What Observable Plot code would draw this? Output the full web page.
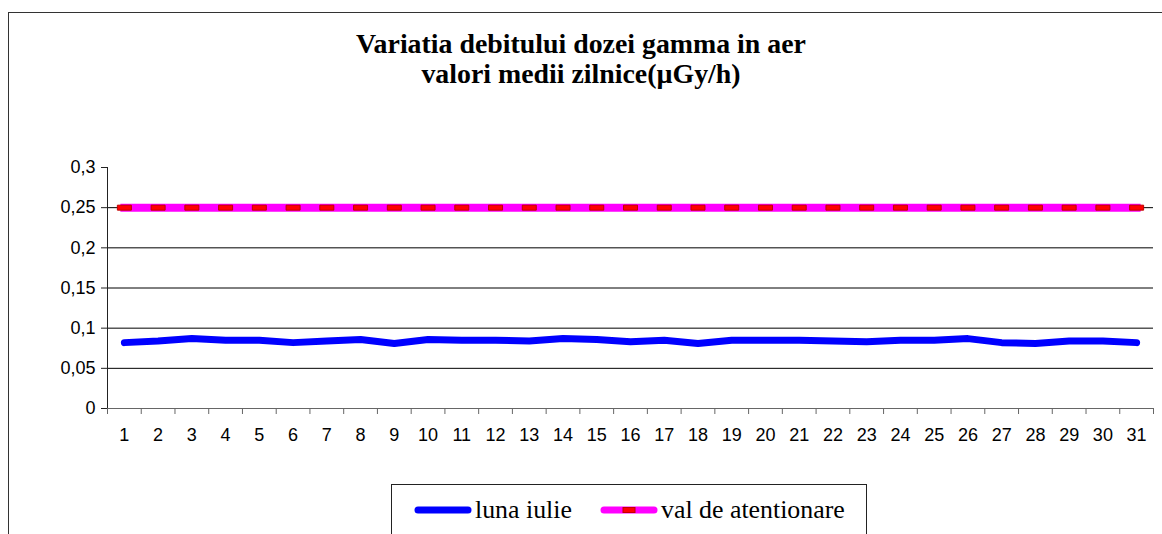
<!DOCTYPE html>
<html>
<head>
<meta charset="utf-8">
<script src="https://cdn.jsdelivr.net/npm/d3@7"></script>
<script src="https://cdn.jsdelivr.net/npm/@observablehq/plot@0.6"></script>
<style>
  html, body { margin: 0; padding: 0; background: #fff; }
  #wrap { position: relative; width: 1162px; height: 534px; overflow: hidden; background: #fff; }
  #frame { position: absolute; left: 8px; top: 12px; width: 1300px; height: 700px; border: 1px solid #333; box-sizing: border-box; }
  #title { position: absolute; left: 0; width: 1162px; top: 29px; text-align: center; font-weight: bold; font-size: 27px; line-height: 30px; color: #000; }
  #title span { white-space: nowrap; }
  #chart { position: absolute; left: 0; top: 0; }
  #legend { position: absolute; left: 391px; top: 484px; width: 476px; height: 80px; border: 1px solid #222; box-sizing: border-box; background: #fff; font-size: 25px; }
  .item { position: absolute; top: 11px; height: 28px; line-height: 28px; display: flex; align-items: center; white-space: nowrap; }
  .item svg { display: block; margin-right: 3px; }
</style>
</head>
<body>
<div id="wrap">
  <div id="frame"></div>
  <div id="title"><span id="t1">Variatia debitului dozei gamma in aer</span><br><span id="t2">valori medii zilnice(µGy/h)</span></div>
  <div id="chart"></div>
  <div id="legend"></div>
</div>
<script>
// ---- data ----
const days = d3.range(1, 32);
const lunaIulie = [0.082, 0.084, 0.087, 0.085, 0.085, 0.082, 0.084, 0.086, 0.081, 0.086,
                   0.085, 0.085, 0.084, 0.087, 0.086, 0.083, 0.085, 0.081, 0.085, 0.085,
                   0.085, 0.084, 0.083, 0.085, 0.085, 0.087, 0.082, 0.081, 0.084, 0.084, 0.082];
const valAtentionare = days.map(() => 0.25);
const yTicks = [0, 0.05, 0.1, 0.15, 0.2, 0.25, 0.3];
const gridValues = [0.05, 0.1, 0.15, 0.2, 0.25];
const seriesNames = ["luna iulie", "val de atentionare"];
const seriesColors = ["#0000FF", "#FF00FF"];

// pick an installed serif font
function hasFont(name) {
  const c = document.createElement("canvas").getContext("2d");
  const s = "abcdefghijklmnopqrstuvwxyzABCDEFGHIJ0123456789";
  c.font = "40px monospace"; const w1 = c.measureText(s).width;
  c.font = `40px '${name}', monospace`; const w2 = c.measureText(s).width;
  c.font = "40px sans-serif"; const w3 = c.measureText(s).width;
  c.font = `40px '${name}', sans-serif`; const w4 = c.measureText(s).width;
  return w1 !== w2 || w3 !== w4;
}
const serifCandidates = ["Liberation Serif", "Times New Roman", "Tinos", "DejaVu Serif", "Noto Serif"];
const found = serifCandidates.find(hasFont);
const serifFont = (found ? `'${found}', ` : "") + "serif";
document.getElementById("title").style.fontFamily = serifFont;
document.getElementById("legend").style.fontFamily = serifFont;

const blue = days.map((d, i) => ({day: d, value: lunaIulie[i]}));
const alert = days.map((d, i) => ({day: d, value: valAtentionare[i]}));
const boundaries = d3.range(0.5, 32, 1);

const dashSymbol = {
  draw(ctx, size) { ctx.rect(-7, -2.5, 14, 5); }
};

const fmt = d => String(+d.toFixed(2)).replace(".", ",");

const plot = Plot.plot({
  width: 1162,
  height: 534,
  marginLeft: 107,
  marginRight: 9,
  marginTop: 167,
  marginBottom: 126,
  style: { fontFamily: "'Liberation Sans', Arial, sans-serif", fontSize: "18px", color: "#000", background: "transparent" },
  x: { type: "linear", domain: [0.5, 31.5] },
  y: { domain: [0, 0.3] },
  marks: [
    Plot.ruleY(gridValues, { stroke: "#000", strokeWidth: 1 }),
    Plot.ruleX([0.5], { stroke: "#222", strokeWidth: 1 }),
    Plot.ruleY([0], { stroke: "#666", strokeWidth: 1 }),
    Plot.axisY({ ticks: yTicks, tickFormat: fmt, tickSize: 6, tickPadding: 6, stroke: "#222", label: null, fontSize: 18 }),
    Plot.axisX({ ticks: boundaries, tickFormat: () => "", tickSize: 6, stroke: "#666", label: null }),
    Plot.axisX({ ticks: days, tickFormat: d => String(d), tickSize: 0, tickPadding: 20, label: null, fontSize: 18 }),
    Plot.line(alert, { x: "day", y: "value", stroke: seriesColors[1], strokeWidth: 8, strokeLinecap: "square" }),
    Plot.dot(alert, { x: "day", y: "value", symbol: dashSymbol, fill: "#FF0000", stroke: "#C00000", strokeWidth: 1, r: 5 }),
    Plot.line(blue, { x: "day", y: "value", stroke: seriesColors[0], strokeWidth: 7, strokeLinecap: "round", strokeLinejoin: "round" })
  ]
});
document.getElementById("chart").appendChild(plot);

// ---- legend ----
const legend = document.getElementById("legend");
const lpos = [22, 208];
seriesNames.forEach((name, i) => {
  const item = document.createElement("div");
  item.className = "item";
  item.style.left = lpos[i] + "px";
  let sym = `<svg width="58" height="12"><line x1="4" y1="6" x2="54" y2="6" stroke="${seriesColors[i]}" stroke-width="7" stroke-linecap="round"/>`;
  if (i === 1) sym += `<rect x="23" y="3.5" width="12" height="5" fill="#FF0000" stroke="#C00000" stroke-width="1"/>`;
  sym += `</svg>`;
  item.innerHTML = sym + `<span class="lt">${name}</span>`;
  legend.appendChild(item);
});

// fit font sizes to the reference text widths
const t1 = document.getElementById("t1");
const tw = t1.getBoundingClientRect().width;
document.getElementById("title").style.fontSize = (27 * 450 / tw).toFixed(2) + "px";
const lt = legend.querySelector(".lt");
const lw = lt.getBoundingClientRect().width;
legend.style.fontSize = (25 * 97 / lw).toFixed(2) + "px";
</script>
</body>
</html>
